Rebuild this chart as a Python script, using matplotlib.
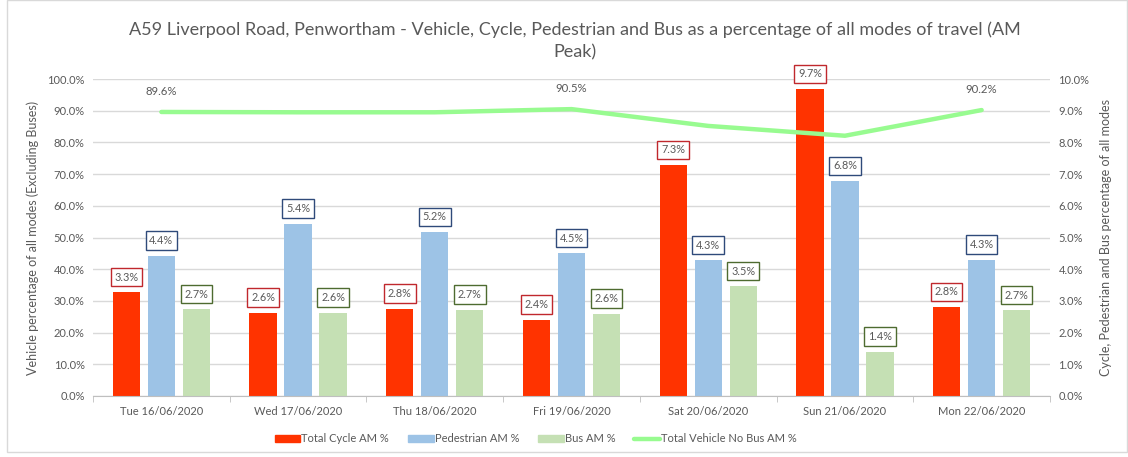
import matplotlib.pyplot as plt
import numpy as np
from matplotlib.patches import Rectangle
from matplotlib.lines import Line2D

plt.rcParams['font.family'] = ['Lato', 'DejaVu Sans']

days = ["Tue 16/06/2020", "Wed 17/06/2020", "Thu 18/06/2020", "Fri 19/06/2020",
        "Sat 20/06/2020", "Sun 21/06/2020", "Mon 22/06/2020"]
cycle_pct = [3.27, 2.62, 2.75, 2.40, 7.28, 9.68, 2.80]
ped_pct = [4.43, 5.43, 5.17, 4.50, 4.28, 6.78, 4.30]
bus_pct = [2.73, 2.63, 2.72, 2.60, 3.46, 1.39, 2.70]
vehicle_pct = [89.6, 89.5, 89.5, 90.5, 85.2, 82.1, 90.2]
vehicle_labelled = [0, 3, 6]

grey = "#595959"
c_cycle, c_ped, c_bus, c_line = "#FF3300", "#9DC3E6", "#C5E0B4", "#98FB90"
e_cycle, e_ped, e_bus = "#C0282D", "#2F4A7A", "#4E6B30"

fig = plt.figure(figsize=(11.28, 4.57), dpi=100)
fig.patches.append(Rectangle((0.006, 0.01), 0.993, 0.989, transform=fig.transFigure,
                             fill=False, edgecolor="#D9D9D9", linewidth=1))
ax = fig.add_axes([93 / 1128, 1 - 396 / 457, 957 / 1128, 317 / 457])
ax2 = ax.twinx()

x = np.arange(len(days))
w = 0.2
off = 0.256
series = [(cycle_pct, c_cycle, e_cycle, -off), (ped_pct, c_ped, e_ped, 0), (bus_pct, c_bus, e_bus, off)]
for vals, col, ecol, dx in series:
    ax.bar(x + dx, vals, width=w, color=col, zorder=2)
    for xi, v in zip(x, vals):
        ax.annotate(f"{v:.1f}%", (xi + dx, v), xytext=(0, 11), textcoords="offset points",
                    ha="center", va="center", fontsize=7.8, color=grey,
                    bbox=dict(boxstyle="square,pad=0.35", fc="white", ec=ecol, lw=1))

ax.set_ylim(0, 10)
ax.set_yticks(np.arange(0, 10.1, 1))
ax.set_yticklabels([f"{t:.1f}%" for t in np.arange(0, 10.1, 1)])
ax.yaxis.tick_right()
ax.yaxis.set_label_position("right")
ax.set_ylabel("Cycle, Pedestrian and Bus percentage of all modes", fontsize=9, color=grey, labelpad=8)
ax.grid(axis="y", color="#D9D9D9", linewidth=1)
ax.set_axisbelow(True)

ax2.plot(x, vehicle_pct, color=c_line, linewidth=3.2, solid_capstyle="round", zorder=3)
for i in vehicle_labelled:
    ax2.annotate(f"{vehicle_pct[i]:.1f}%", (x[i], vehicle_pct[i]), xytext=(0, 15),
                 textcoords="offset points", ha="center", va="center", fontsize=8.2, color=grey)
ax2.set_ylim(0, 100)
ax2.set_yticks(np.arange(0, 101, 10))
ax2.set_yticklabels([f"{t:.1f}%" for t in np.arange(0, 101, 10)])
ax2.yaxis.tick_left()
ax2.yaxis.set_label_position("left")
ax2.set_ylabel("Vehicle percentage of all modes (Excluding Buses)", fontsize=9, color=grey, labelpad=6)

ax.set_xlim(-0.5, len(days) - 0.5)
ax.set_xticks(x)
ax.set_xticklabels(days)
ax.set_xticks(np.arange(-0.5, len(days), 1), minor=True)
ax.tick_params(axis="x", which="major", length=0, pad=7, labelsize=8, labelcolor=grey)
ax.tick_params(axis="x", which="minor", length=4, color="#BFBFBF")

for a in (ax, ax2):
    a.tick_params(axis="y", length=0, labelsize=8, labelcolor=grey, pad=6)
    for s in a.spines.values():
        s.set_visible(False)
ax.spines["bottom"].set_visible(True)
ax.spines["bottom"].set_color("#BFBFBF")

fig.text(0.51, 1 - 30 / 457, "A59 Liverpool Road, Penwortham - Vehicle, Cycle, Pedestrian and Bus as a percentage of all modes of travel (AM",
         ha="center", va="center", fontsize=13, color=grey)
fig.text(0.51, 1 - 52 / 457, "Peak)", ha="center", va="center", fontsize=13, color=grey)

handles = [Rectangle((0, 0), 1, 1, color=c_cycle), Rectangle((0, 0), 1, 1, color=c_ped),
           Rectangle((0, 0), 1, 1, color=c_bus),
           Line2D([0], [0], color=c_line, linewidth=3.2, solid_capstyle="round")]
labels = ["Total Cycle AM %", "Pedestrian AM %", "Bus AM %", "Total Vehicle No Bus AM %"]
fig.legend(handles, labels, loc="center", bbox_to_anchor=(0.475, 1 - 439 / 457), ncol=4,
           frameon=False, fontsize=8, labelcolor=grey, handlelength=2.3, handleheight=0.6,
           handletextpad=0.1, columnspacing=1.7)

fig.savefig("out.png", dpi=100)
